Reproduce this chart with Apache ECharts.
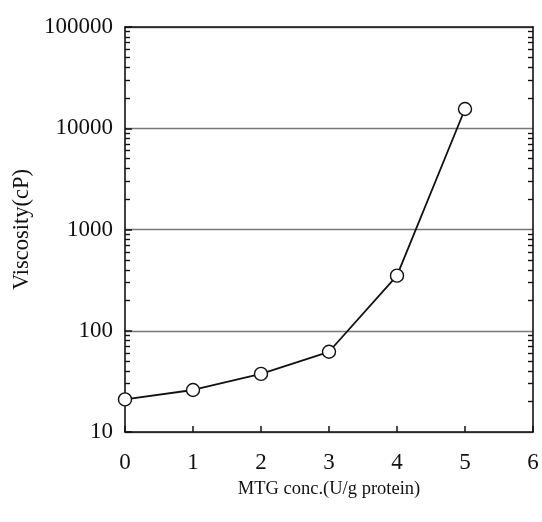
<!DOCTYPE html>
<html><head><meta charset="utf-8">
<script src="https://cdn.jsdelivr.net/npm/echarts@6/dist/echarts.min.js"></script>
<style>html,body{margin:0;padding:0;background:#fff}#c{width:542px;height:522px}</style>
</head><body><div id="c"></div>
<script>
var mtgConc = [0, 1, 2, 3, 4, 5];
var viscosity = [21, 26, 37.5, 62, 350, 15500];
var xTicks = [0, 1, 2, 3, 4, 5, 6];
var yMajorTicks = [10, 100, 1000, 10000, 100000];
var yMinorTicks = [];
for (var d = 10; d < 100000; d *= 10) { for (var k = 2; k <= 9; k++) yMinorTicks.push(k * d); }

var font = '"Liberation Serif", "DejaVu Serif", serif';
var chart = echarts.init(document.getElementById('c'), null, {renderer: 'canvas'});
chart.setOption({
  animation: false,
  backgroundColor: '#fff',
  grid: {left: 125, right: 9, top: 27, bottom: 90, containLabel: false},
  xAxis: [{
    type: 'value', min: 0, max: 6, interval: 1, position: 'bottom',
    name: 'MTG conc.(U/g protein)', nameLocation: 'middle', nameGap: 48,
    nameTextStyle: {fontFamily: font, fontSize: 18.5, color: '#111'},
    axisLine: {lineStyle: {color: '#111', width: 1.6}},
    axisTick: {inside: true, length: 6, lineStyle: {color: '#111', width: 1.5}},
    axisLabel: {fontFamily: font, fontSize: 23, color: '#111', margin: 19,
      customValues: xTicks},
    splitLine: {show: false}
  }, {
    type: 'value', min: 0, max: 6, interval: 1, position: 'top',
    axisLine: {show: true, onZero: false, lineStyle: {color: '#111', width: 1.6}},
    axisTick: {show: false}, axisLabel: {show: false}, splitLine: {show: false}
  }],
  yAxis: [{
    type: 'log', logBase: 10, min: 10, max: 100000, position: 'left',
    name: 'Viscosity(cP)', nameLocation: 'middle', nameGap: 90, nameRotate: 90,
    nameTextStyle: {fontFamily: font, fontSize: 22.5, color: '#111'},
    axisLine: {show: true, lineStyle: {color: '#111', width: 1.6}},
    axisTick: {inside: true, length: 7, lineStyle: {color: '#111', width: 1.5}},
    axisLabel: {fontFamily: font, fontSize: 23, color: '#111', margin: 12,
      padding: [0, 0, 8, 0],
      customValues: yMajorTicks,
      formatter: function (v) { return String(Math.round(v)); }},
    splitLine: {show: true, lineStyle: {color: '#777', width: 1.3, type: 'solid'}}
  }, {
    type: 'log', logBase: 10, min: 10, max: 100000, position: 'left',
    axisLine: {show: false},
    axisTick: {show: true, inside: true, length: 5, customValues: yMinorTicks,
      lineStyle: {color: '#111', width: 1.4}},
    axisLabel: {show: false}, splitLine: {show: false}
  }, {
    type: 'log', logBase: 10, min: 10, max: 100000, position: 'right',
    axisLine: {show: true, lineStyle: {color: '#111', width: 1.6}},
    axisTick: {show: true, inside: true, length: 5, customValues: yMinorTicks,
      lineStyle: {color: '#111', width: 1.4}},
    axisLabel: {show: false}, splitLine: {show: false}
  }],
  series: [{
    type: 'line', xAxisIndex: 0, yAxisIndex: 0,
    data: mtgConc.map(function (x, i) { return [x, viscosity[i]]; }),
    smooth: false,
    symbol: 'circle', symbolSize: 13, showSymbol: true,
    lineStyle: {color: '#111', width: 1.8},
    itemStyle: {color: '#fff', borderColor: '#111', borderWidth: 1.4}
  }]
});
</script></body></html>
